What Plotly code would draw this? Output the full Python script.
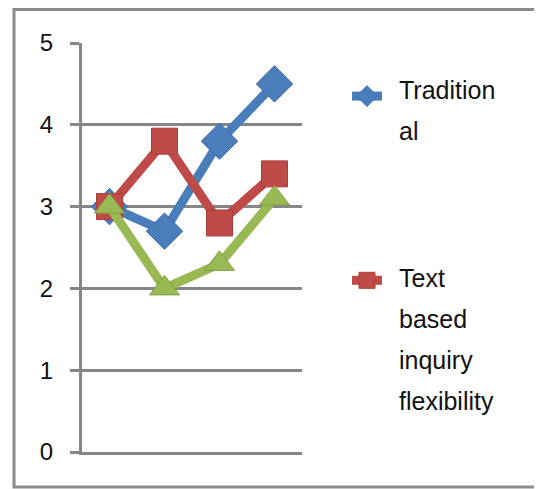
import plotly.graph_objects as go

categories = ["1", "2", "3", "4"]
traditional = [3.0, 2.7, 3.8, 4.5]
text_based = [3.0, 3.8, 2.8, 3.4]
third_series = [3.0, 2.0, 2.3, 3.1]
y_ticks = [0, 1, 2, 3, 4, 5]
legend_lines_trad = ["Tradition", "al"]
legend_lines_text = ["Text", "based", "inquiry", "flexibility"]

BLUE = "#4A7EBB"
RED = "#BE4B48"
GREEN = "#98B954"
GRAY = "#868686"
FONT = "Liberation Sans"

fig = go.Figure()
fig.add_trace(go.Scatter(
    x=categories, y=traditional, mode="lines+markers", name=" ",
    legendgroup="a",
    line=dict(color=BLUE, width=9),
    marker=dict(symbol="diamond", size=28, color=BLUE, line=dict(color="#3C6AA5", width=1)),
))
fig.add_trace(go.Scatter(
    x=categories, y=text_based, mode="lines+markers", name=" ",
    legendgroup="b",
    line=dict(color=RED, width=9),
    marker=dict(symbol="square", size=26, color=RED, line=dict(color="#A83E3B", width=1)),
))
fig.add_trace(go.Scatter(
    x=categories, y=third_series, mode="lines+markers", name="Series 3",
    showlegend=False,
    line=dict(color=GREEN, width=9),
    marker=dict(symbol="triangle-up", size=26, color=GREEN, line=dict(color="#7FA03F", width=1)),
))

OFF = 8  # default page body margin
W, H = 542 - OFF, 489 - OFF
L = 82 - OFF
T = 43 - OFF
B = H - (452 - OFF)
R = W - (302 - OFF)
pw, ph = W - L - R, H - T - B

def px_x(p):
    return (p - OFF - L) / pw

def px_y(p):
    return (H - B - (p - OFF)) / ph

annotations = []
for i, t in enumerate(legend_lines_trad):
    annotations.append(dict(x=px_x(397), y=px_y(90 + 41 * i), xref="paper", yref="paper",
                            text=t, showarrow=False, xanchor="left", yanchor="middle",
                            font=dict(family=FONT, size=25, color="#111111")))
for i, t in enumerate(legend_lines_text):
    annotations.append(dict(x=px_x(397), y=px_y(278 + 41 * i), xref="paper", yref="paper",
                            text=t, showarrow=False, xanchor="left", yanchor="middle",
                            font=dict(family=FONT, size=25, color="#111111")))

fig.update_layout(
    width=W, height=H,
    margin=dict(l=L, r=R, t=T, b=B, pad=0),
    paper_bgcolor="white", plot_bgcolor="white",
    font=dict(family=FONT, size=24, color="#111111"),
    showlegend=True,
    legend=dict(x=px_x(347), y=px_y(74), xanchor="left", yanchor="top",
                font=dict(size=24), tracegroupgap=150, itemsizing="trace",
                bgcolor="rgba(0,0,0,0)"),
    annotations=annotations,
    shapes=[dict(type="rect", xref="paper", yref="paper",
                 x0=px_x(14), x1=px_x(540), y0=px_y(487), y1=px_y(9.5),
                 line=dict(color="#8C8C8C", width=3), layer="below")],
    xaxis=dict(type="category", range=[-0.5, 3.5], showticklabels=False, ticks="",
               showgrid=False, zeroline=False, showline=True, linecolor=GRAY, linewidth=3),
    yaxis=dict(range=[0, 5], tickvals=y_ticks, showline=True, linecolor=GRAY, linewidth=3,
               ticks="outside", ticklen=9, tickwidth=3, tickcolor=GRAY,
               showgrid=True, gridcolor=GRAY, gridwidth=3, zeroline=False,
               ticklabelstandoff=12,
               tickfont=dict(family=FONT, size=24, color="#111111")),
)

fig.write_html("out.html")
